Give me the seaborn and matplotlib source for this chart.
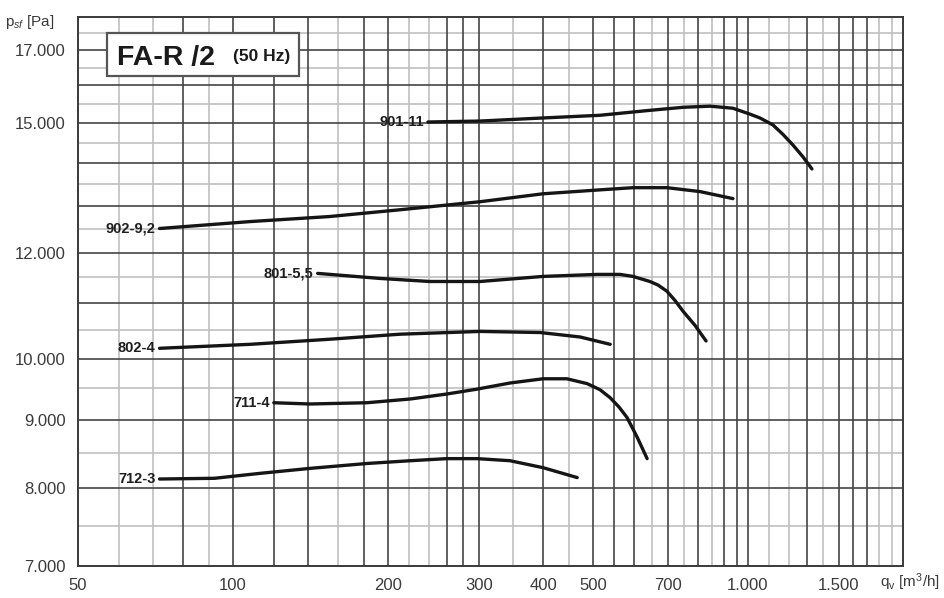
import numpy as np
import pandas as pd
import matplotlib
matplotlib.use("Agg")
import matplotlib.pyplot as plt
import matplotlib.ticker as mticker
from matplotlib.patches import Rectangle
import seaborn as sns

# fan curves: volume flow q_v [m3/h] and pressure p_sf [Pa]
q_901 = [239, 302, 400, 516, 645, 748, 844, 935, 1009, 1055, 1118, 1169, 1223, 1279, 1331]
p_901 = [15025, 15050, 15130, 15200, 15330, 15410, 15440, 15385, 15230, 15130, 14950,
         14710, 14440, 14150, 13860]

q_902 = [72, 108, 154, 211, 302, 400, 516, 598, 696, 807, 935]
p_902 = [12510, 12660, 12770, 12920, 13100, 13280, 13370, 13420, 13420, 13330, 13170]

q_801 = [146, 193, 241, 302, 400, 509, 564, 598, 645, 669, 696, 722, 748, 789, 829]
p_801 = [11580, 11480, 11420, 11420, 11520, 11560, 11560, 11520, 11420, 11350, 11230,
         11050, 10850, 10590, 10310]

q_802 = [72, 108, 154, 211, 302, 395, 472, 540]
p_802 = [10180, 10250, 10340, 10430, 10480, 10460, 10380, 10250]

q_711 = [120, 141, 182, 221, 260, 298, 345, 400, 445, 487, 516, 540, 562, 582, 609, 637]
p_711 = [9270, 9250, 9270, 9330, 9410, 9490, 9590, 9660, 9660, 9580, 9480, 9350, 9200,
         9040, 8740, 8420]

q_712 = [72, 92, 113, 141, 182, 221, 260, 298, 345, 400, 466]
p_712 = [8130, 8140, 8210, 8280, 8350, 8390, 8420, 8420, 8390, 8290, 8150]

curve_names = ["901-11", "902-9,2", "801-5,5", "802-4", "711-4", "712-3"]
curve_q = [q_901, q_902, q_801, q_802, q_711, q_712]
curve_p = [p_901, p_902, p_801, p_802, p_711, p_712]

# axis ticks
x_major = [50, 100, 200, 300, 400, 500, 700, 1000, 1500]
x_labels = ["50", "100", "200", "300", "400", "500", "700", "1.000", "1.500"]
y_major = [7000, 8000, 9000, 10000, 12000, 15000, 17000]
y_labels = ["7.000", "8.000", "9.000", "10.000", "12.000", "15.000", "17.000"]

# grid lines (as they appear in the printed chart: some darker, some lighter)
x_grid_dark = [80, 100, 120, 140, 180, 200, 260, 280, 300, 400, 500, 550, 600,
               700, 800, 900, 950, 1000, 1300, 1500, 1600, 1700]
x_grid_light = [60, 70, 90, 160, 220, 240, 350, 450, 650, 750, 850, 1100, 1200,
                1400, 1800, 1900]
y_grid_dark = [8000, 9000, 10000, 11000, 12000, 13000, 14000, 15000, 16000, 17000]
y_grid_light = [7500, 8500, 9500, 10500, 11500, 12500, 13500, 14500, 15500,
                16500, 17500]

sns.set_style("white")
plt.rcParams["font.family"] = ["Liberation Sans", "DejaVu Sans"]
plt.rcParams["mathtext.fontset"] = "custom"
plt.rcParams["mathtext.rm"] = "Liberation Sans"
plt.rcParams["mathtext.it"] = "Liberation Sans:italic"

fig = plt.figure(figsize=(9.45, 5.98), dpi=100)
ax = fig.add_axes([78 / 945, 1 - 566 / 598, 825 / 945, 549 / 598])

ax.set_xscale("log")
ax.set_yscale("log")
ax.set_xlim(50, 2000)
ax.set_ylim(7000, 18000)

for v in x_grid_light:
    ax.axvline(v, color="#c0c0c0", lw=1.2, zorder=1)
for v in y_grid_light:
    ax.axhline(v, color="#c0c0c0", lw=1.2, zorder=1)
for v in x_grid_dark:
    ax.axvline(v, color="#444444", lw=1.2, zorder=1.5)
for v in y_grid_dark:
    ax.axhline(v, color="#444444", lw=1.2, zorder=1.5)

for name, q, p in zip(curve_names, curve_q, curve_p):
    df = pd.DataFrame({"q": q, "p": p})
    sns.lineplot(data=df, x="q", y="p", ax=ax, color="#151515", lw=2.4,
                 sort=False, estimator=None, zorder=3,
                 solid_joinstyle="round", solid_capstyle="round")
    ax.annotate(name, xy=(q[0], p[0]), xytext=(-3, 0), textcoords="offset points",
                ha="right", va="center", fontsize=10.5, fontweight="bold",
                color="#1e1e1e", zorder=4)

ax.xaxis.set_major_locator(mticker.FixedLocator(x_major))
ax.xaxis.set_major_formatter(mticker.FixedFormatter(x_labels))
ax.xaxis.set_minor_locator(mticker.FixedLocator(x_grid_dark + x_grid_light))
ax.xaxis.set_minor_formatter(mticker.NullFormatter())
ax.yaxis.set_major_locator(mticker.FixedLocator(y_major))
ax.yaxis.set_major_formatter(mticker.FixedFormatter(y_labels))
ax.yaxis.set_minor_locator(mticker.FixedLocator(y_grid_dark + y_grid_light))
ax.yaxis.set_minor_formatter(mticker.NullFormatter())

ax.tick_params(which="major", length=5, width=1.1, color="#444444",
               labelsize=12, labelcolor="#3a3a3a", pad=4)
ax.tick_params(which="minor", length=3, width=1.0, color="#666666")
ax.set_xlabel("")
ax.set_ylabel("")

for s in ax.spines.values():
    s.set_color("#3a3a3a")
    s.set_linewidth(1.4)
    s.set_zorder(5)

# title box
ax.add_patch(Rectangle((0.0352, 0.8925), 0.2327, 0.0785, transform=ax.transAxes,
                       fc="white", ec="#555555", lw=1.6, zorder=6))
ax.text(0.0473, 0.912, "FA-R /2", transform=ax.transAxes, fontsize=20.5,
        fontweight="bold", color="#1a1a1a", va="baseline", ha="left", zorder=7)
ax.text(0.188, 0.919, "(50 Hz)", transform=ax.transAxes, fontsize=12.5,
        fontweight="bold", color="#1a1a1a", va="baseline", ha="left", zorder=7)

# axis titles
fig.text(5 / 945, 1 - 26 / 598, r"p$_{sf}$ [Pa]", fontsize=11, color="#3a3a3a",
         ha="left", va="baseline")
fig.text(940 / 945, 1 - 587 / 598, r"q$_\mathrm{v}$ [m$^3$/h]", fontsize=11,
         color="#3a3a3a", ha="right", va="baseline")

fig.savefig("out.png", dpi=100)
